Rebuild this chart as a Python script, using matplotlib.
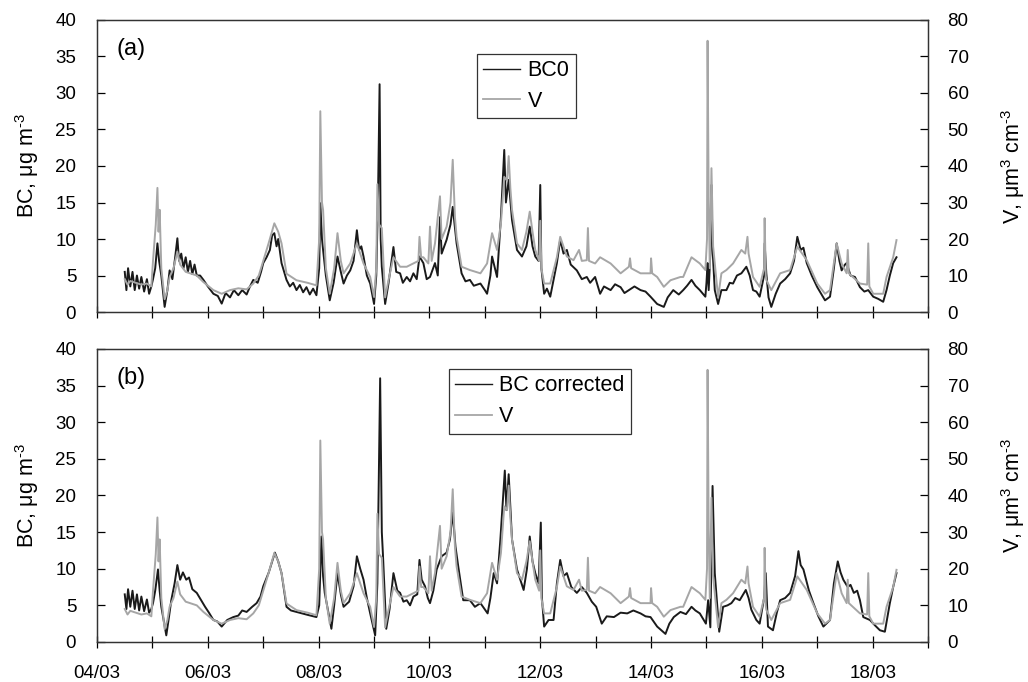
#!/usr/bin/env python3
"""Two stacked panels: BC (left axis) vs aerosol volume V (right axis), 04/03 - 19/03."""
import numpy as np
import matplotlib; matplotlib.use("Agg")
import matplotlib.pyplot as plt
from matplotlib.lines import Line2D

plt.rcParams.update({"font.family": ["Liberation Sans", "DejaVu Sans"], "font.size": 13,
                     "mathtext.fontset": "custom", "mathtext.rm": "Liberation Sans"})

# time = days since 04/03 00:00
t_v = [0.50, 0.55, 0.60, 0.70, 0.80, 0.90, 0.98, 1.01, 1.06, 1.09, 1.11, 1.13, 1.16, 1.22, 1.27, 1.31,
       1.38, 1.45, 1.50, 1.60, 1.70, 1.80, 1.92, 2.10, 2.25, 2.40, 2.55, 2.70, 2.82, 2.92, 3.00, 3.10,
       3.20, 3.27, 3.33, 3.42, 3.60, 3.80, 3.96, 4.01, 4.03, 4.06, 4.08, 4.13, 4.20, 4.28, 4.34, 4.40,
       4.45, 4.57, 4.69, 4.75, 4.81, 4.93, 5.00, 5.04, 5.06, 5.09, 5.14, 5.20, 5.26, 5.35, 5.47, 5.59,
       5.71, 5.80, 5.82, 5.85, 5.89, 5.98, 6.01, 6.04, 6.10, 6.19, 6.22, 6.31, 6.38, 6.42, 6.46, 6.49,
       6.58, 6.73, 6.92, 7.04, 7.13, 7.22, 7.29, 7.35, 7.40, 7.43, 7.46, 7.49, 7.58, 7.67, 7.75, 7.81,
       7.86, 7.91, 7.98, 8.00, 8.02, 8.07, 8.18, 8.30, 8.36, 8.48, 8.60, 8.70, 8.75, 8.84, 8.86, 8.88,
       8.99, 9.08, 9.27, 9.45, 9.60, 9.62, 9.64, 9.81, 9.99, 10.00, 10.02, 10.11, 10.23, 10.35, 10.53,
       10.58, 10.73, 10.88, 10.98, 11.01, 11.02, 11.04, 11.06, 11.09, 11.12, 11.21, 11.27, 11.36, 11.48,
       11.63, 11.70, 11.74, 11.76, 11.84, 11.96, 12.04, 12.05, 12.07, 12.08, 12.17, 12.33, 12.51, 12.64,
       12.81, 13.00, 13.14, 13.23, 13.35, 13.44, 13.53, 13.55, 13.57, 13.77, 13.90, 13.92, 13.94, 14.01,
       14.19, 14.25, 14.37, 14.43]
v = [9, 7.5, 8.5, 8, 7.5, 7.8, 7, 14, 24, 34, 22, 28, 12, 3.5, 6, 9.6,
     12, 16.5, 13, 11, 10.5, 10, 8.2, 6, 5, 6, 6.5, 6.2, 7.8, 10, 14, 19,
     24.3, 22, 18.8, 10.5, 8.7, 8, 7.3, 20, 55, 30, 28, 12, 5, 12, 21.6, 14,
     10.6, 13.3, 18.8, 16, 13.3, 9.6, 4.1, 12, 35, 24, 23, 4, 8.7, 15, 12.4, 12.4,
     13.3, 14, 20.6, 15, 15, 13.3, 23.4, 14, 18.8, 31.7, 20, 23.4, 30, 41.7, 26, 20.6,
     12.4, 11.5, 10.6, 13.3, 21.6, 17, 24.3, 37, 36, 42.7, 34, 28, 18.8, 17, 22, 27.5,
     22, 17, 14, 25, 12, 7.8, 7.8, 15, 20.6, 15.2, 14.2, 17, 14, 14.2, 23, 14,
     13.3, 15, 13.3, 10.6, 12.4, 14.7, 12, 10.6, 10.6, 14.7, 10.6, 9.6, 6.9, 8.7, 9.6,
     9.6, 15, 13.3, 11.5, 20, 74.3, 30, 12, 39.4, 18, 4, 10.6, 11.5, 13.3,
     17, 16, 20.6, 16, 9.6, 6.9, 12, 25.7, 10, 8.8, 6, 10.6, 11.5, 17.9,
     14.2, 7.8, 5, 6, 18.8, 13.3, 10.6, 17, 10.6, 7.8, 7.5, 18.8, 7, 5,
     5, 9.6, 15, 19.7]

t_bc0 = [0.50, 0.53, 0.56, 0.60, 0.64, 0.68, 0.72, 0.76, 0.80, 0.85, 0.90, 0.94, 0.98, 1.01, 1.05, 1.09,
         1.12, 1.16, 1.22, 1.27, 1.31, 1.36, 1.41, 1.45, 1.48, 1.52, 1.56, 1.60, 1.64, 1.68, 1.72, 1.76,
         1.80, 1.86, 1.92, 2.00, 2.10, 2.18, 2.25, 2.32, 2.40, 2.47, 2.55, 2.62, 2.70, 2.76, 2.82, 2.90,
         2.96, 3.00, 3.06, 3.12, 3.16, 3.20, 3.24, 3.27, 3.33, 3.42, 3.48, 3.54, 3.60, 3.66, 3.72, 3.78,
         3.84, 3.90, 3.96, 4.01, 4.03, 4.06, 4.08, 4.13, 4.20, 4.27, 4.34, 4.40, 4.45, 4.51, 4.57, 4.63,
         4.69, 4.73, 4.77, 4.81, 4.87, 4.93, 5.00, 5.04, 5.07, 5.10, 5.12, 5.14, 5.20, 5.26, 5.35, 5.40,
         5.47, 5.52, 5.59, 5.65, 5.71, 5.77, 5.82, 5.89, 5.95, 6.01, 6.10, 6.15, 6.19, 6.22, 6.31, 6.38,
         6.42, 6.46, 6.49, 6.58, 6.65, 6.73, 6.80, 6.92, 7.00, 7.04, 7.10, 7.13, 7.22, 7.29, 7.35, 7.38,
         7.43, 7.49, 7.58, 7.67, 7.75, 7.81, 7.86, 7.91, 7.97, 8.00, 8.02, 8.07, 8.12, 8.18, 8.30, 8.36,
         8.42, 8.48, 8.55, 8.66, 8.75, 8.84, 8.90, 8.99, 9.08, 9.15, 9.27, 9.35, 9.45, 9.52, 9.60, 9.70,
         9.81, 9.90, 9.99, 10.11, 10.23, 10.30, 10.40, 10.50, 10.58, 10.65, 10.73, 10.80, 10.88, 10.98,
         11.00, 11.02, 11.04, 11.07, 11.09, 11.11, 11.15, 11.21, 11.27, 11.36, 11.42, 11.48, 11.55, 11.63,
         11.72, 11.78, 11.84, 11.90, 11.96, 12.04, 12.05, 12.08, 12.12, 12.17, 12.25, 12.33, 12.42, 12.51,
         12.58, 12.64, 12.70, 12.75, 12.81, 12.90, 13.00, 13.07, 13.14, 13.23, 13.30, 13.35, 13.40, 13.44,
         13.50, 13.53, 13.60, 13.68, 13.77, 13.85, 13.92, 14.01, 14.10, 14.19, 14.25, 14.31, 14.37, 14.43]
bc0 = [5.5, 3.0, 6.0, 3.5, 5.5, 3.0, 5.0, 3.2, 4.8, 2.8, 4.5, 2.5, 3.5, 4.5, 6, 9.4,
       7, 5, 0.7, 3, 5.7, 4.5, 7.5, 10.1, 7, 8, 6, 7.5, 5.5, 7, 5.2, 6.5,
       5, 5, 4.4, 3.5, 2.5, 2.2, 1.15, 2.6, 2.0, 3.0, 2.3, 3.0, 2.4, 3.5, 4.4, 4.0,
       5.5, 6.7, 7.5, 8.5, 10.5, 10.8, 9, 10, 6.7, 4.4, 3.5, 4, 3.0, 3.7, 2.7, 3.4,
       2.4, 3.2, 2.3, 6, 14.9, 10, 8.5, 5, 1.6, 4, 7.6, 5.5, 3.9, 5, 5.7, 7,
       11.2, 8.5, 9, 7.6, 5, 3.9, 1.1, 5, 15, 31.2, 10, 6.2, 1.1, 3.9, 8.9, 5.5,
       5.3, 4, 4.8, 4.2, 5.3, 4.5, 7.6, 6.7, 4.5, 4.8, 6.7, 5, 13, 8, 9.9, 12,
       14.4, 11.5, 9.4, 5.3, 4.2, 4.4, 3.6, 3.9, 3, 2.5, 5, 7.6, 4.8, 13, 22.2, 15,
       18.1, 12.6, 8.5, 7.6, 9, 11.7, 9, 7.6, 7, 17.4, 6, 2.5, 3.2, 2.1, 6.7, 9.9,
       8, 8.5, 6.5, 5.7, 4.5, 4.8, 4, 4.8, 2.5, 3.5, 3, 3.8, 3.4, 2.6, 3, 3.5,
       3, 2.8, 2.1, 1.1, 0.7, 2, 3, 2.4, 3, 3.6, 4.4, 3.6, 3, 2.1,
       4, 6.7, 3, 8, 17.4, 8.5, 3, 1.1, 3, 3, 4, 3.9, 5, 5.3,
       6.2, 5, 3, 2.8, 2.1, 5, 9.4, 5.3, 2, 0.7, 2.5, 3.9, 4.5, 5.3,
       7, 10.3, 8.5, 8.8, 6.7, 5, 3.4, 2.5, 1.6, 2.1, 6, 9.4, 7, 5.7,
       6.5, 6.7, 5, 4.8, 3.4, 2.8, 3, 2.1, 1.8, 1.4, 3, 5, 6.7, 7.5]

t_bcc = [0.50, 0.53, 0.56, 0.60, 0.64, 0.68, 0.72, 0.76, 0.80, 0.85, 0.90, 0.94, 0.98, 1.01, 1.05, 1.10,
         1.13, 1.16, 1.25, 1.30, 1.34, 1.40, 1.45, 1.50, 1.55, 1.61, 1.66, 1.72, 1.80, 1.87, 1.95, 2.02,
         2.10, 2.17, 2.25, 2.35, 2.46, 2.55, 2.62, 2.70, 2.80, 2.88, 2.95, 3.00, 3.10, 3.21, 3.27, 3.33,
         3.42, 3.50, 3.60, 3.70, 3.80, 3.96, 4.01, 4.05, 4.08, 4.11, 4.23, 4.28, 4.34, 4.40, 4.45, 4.55,
         4.63, 4.69, 4.75, 4.81, 4.87, 4.93, 5.02, 5.06, 5.11, 5.14, 5.16, 5.22, 5.28, 5.35, 5.42, 5.47,
         5.53, 5.59, 5.65, 5.71, 5.78, 5.82, 5.86, 5.92, 5.97, 6.01, 6.07, 6.13, 6.22, 6.31, 6.37, 6.42,
         6.47, 6.52, 6.61, 6.73, 6.82, 6.92, 7.05, 7.10, 7.16, 7.22, 7.28, 7.36, 7.39, 7.43, 7.49, 7.58,
         7.70, 7.76, 7.81, 7.86, 7.91, 7.97, 8.01, 8.03, 8.07, 8.15, 8.24, 8.30, 8.36, 8.42, 8.48, 8.56,
         8.66, 8.75, 8.84, 8.93, 9.01, 9.11, 9.20, 9.33, 9.45, 9.57, 9.68, 9.81, 9.90, 9.99, 10.11, 10.26,
         10.33, 10.41, 10.53, 10.63, 10.73, 10.80, 10.88, 10.99, 11.03, 11.07, 11.11, 11.15, 11.23, 11.30,
         11.38, 11.45, 11.52, 11.60, 11.71, 11.76, 11.81, 11.90, 11.96, 12.04, 12.07, 12.11, 12.20, 12.27,
         12.33, 12.42, 12.51, 12.60, 12.66, 12.70, 12.75, 12.85, 12.93, 13.02, 13.11, 13.23, 13.30, 13.37,
         13.42, 13.47, 13.55, 13.60, 13.66, 13.72, 13.77, 13.83, 13.95, 14.05, 14.13, 14.22, 14.31, 14.37,
         14.43]
bcc = [6.5, 4.5, 7.2, 4.8, 7.0, 4.5, 6.5, 4.3, 6.2, 4.2, 5.8, 4.0, 4.5, 5.3, 7, 9.9,
       7, 4.8, 0.9, 3.5, 5.7, 8, 10.5, 8.5, 9.5, 8.5, 8.8, 7.2, 6.7, 5.8, 4.8, 4,
       3, 2.8, 2.1, 3, 3.4, 3.6, 4.3, 4.1, 4.8, 5.3, 6.2, 7.6, 9.5, 12.2, 11, 9.4,
       4.8, 4.3, 4.1, 3.9, 3.7, 3.4, 5, 14.4, 9, 6.7, 1.8, 5, 9.4, 6.5, 4.8, 5.5,
       7.6, 11.7, 10, 8.5, 6, 3.9, 0.9, 8, 36, 15, 12, 1.8, 4.5, 9.4, 7, 6.7,
       5.5, 5.7, 5, 6.2, 6.5, 11.2, 8.5, 7.6, 6, 5.3, 7, 9.9, 11.7, 12.2, 14, 17.7,
       13, 10.3, 5.7, 5.7, 4.8, 5.3, 3.9, 6, 9.4, 8, 14, 23.4, 18, 22.9, 14, 9.9,
       7.1, 10, 14.4, 11, 9.4, 8, 16.3, 6, 2.1, 3, 3, 8, 11.2, 9, 9.4, 7.5,
       6.7, 7.5, 6.7, 5.5, 4.8, 2.5, 3.5, 3.4, 4, 3.9, 4.3, 3.9, 3.5, 3.4, 2.1, 1.1,
       2.5, 3.4, 4.1, 3.8, 4.8, 4.3, 3.9, 2.5, 5.7, 2, 21.3, 9.4, 1.4, 4.8,
       5, 5.3, 6, 5.7, 7.1, 6, 4.4, 3, 2.5, 6, 9.4, 2.1, 1.6, 4,
       5.7, 6, 6.7, 9, 12.4, 10.5, 9.9, 7, 5.3, 3.5, 2.1, 3, 8, 11,
       9.5, 8.5, 7.5, 7.8, 6.7, 7, 5.7, 3.4, 3, 2.2, 1.6, 1.4, 5.3, 7.5,
       9.4]

day_labels = ["04/03", "06/03", "08/03", "10/03", "12/03", "14/03", "16/03", "18/03"]
panels = [("(a)", t_bc0, bc0, "BC0", (0.457, 0.884)),
          ("(b)", t_bcc, bcc, "BC corrected", (0.423, 0.932))]

BLK, GRY = "#1a1a1a", "#a6a6a6"
fig = plt.figure(figsize=(10.28, 6.82), dpi=100)
rects = [[0.0944, 0.5425, 0.8084, 0.4282], [0.0944, 0.0587, 0.8084, 0.4296]]

for i, (tag, tb, bc, lab, anchor) in enumerate(panels):
    ax = fig.add_axes(rects[i])
    ax2 = ax.twinx()
    ax.plot(tb, bc, color=BLK, lw=1.4)
    ax2.plot(t_v, v, color=GRY, lw=1.4)

    ax.set_xlim(0, 15); ax.set_ylim(0, 40); ax2.set_ylim(0, 80)
    ax.set_yticks(np.arange(0, 41, 5)); ax2.set_yticks(np.arange(0, 81, 10))
    ax.set_xticks(np.arange(0, 16))
    if i == 1:
        ax.set_xticklabels([day_labels[k // 2] if k % 2 == 0 and k < 15 else "" for k in range(16)])
    else:
        ax.set_xticklabels([])
    ax.tick_params(axis="x", direction="inout", length=9, width=0.9, pad=12, labelsize=13.5)
    ax.tick_params(axis="y", direction="in", length=6, width=0.9, pad=15, labelsize=13.5)
    ax2.tick_params(axis="y", direction="in", length=6, width=0.9, pad=14, labelsize=13.5)
    for a in (ax, ax2):
        for s in a.spines.values():
            s.set_linewidth(0.9); s.set_color("#333333")

    ax.set_ylabel(r"BC, $\mathregular{\mu}$g m$^{\text{-3}}$", fontsize=15.5, labelpad=10)
    ax2.set_ylabel(r"V, $\mathregular{\mu}$m$^{\text{3}}$ cm$^{\text{-3}}$", fontsize=15.5, labelpad=22)
    ax.text(0.024, 0.94, tag, transform=ax.transAxes, fontsize=17, va="top", ha="left")

    handles = [Line2D([], [], color=BLK, lw=1.0), Line2D([], [], color=GRY, lw=1.3)]
    leg = ax2.legend(handles, [lab, "V"], loc="upper left", bbox_to_anchor=anchor, borderaxespad=0,
                     fontsize=15.5, frameon=True, fancybox=False, handlelength=1.7, handletextpad=0.35,
                     labelspacing=0.45, borderpad=0.3)
    leg.get_frame().set_edgecolor("black"); leg.get_frame().set_linewidth(0.9)

fig.savefig("out.png", dpi=100)
